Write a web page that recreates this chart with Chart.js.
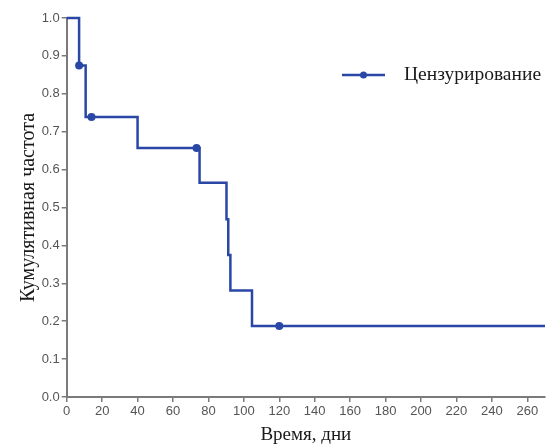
<!DOCTYPE html>
<html>
<head>
<meta charset="utf-8">
<script src="https://cdn.jsdelivr.net/npm/chart.js@4/dist/chart.umd.min.js"></script>
<style>
html,body{margin:0;padding:0;background:#fff;overflow:hidden;}
#wrap{width:546px;height:446px;position:relative;overflow:hidden;}
</style>
</head>
<body>
<div id="wrap"><canvas id="c" width="549" height="446"></canvas></div>
<script>
// Kaplan–Meier step curve (time in days, cumulative proportion)
const stepTimes  = [0, 7, 10.7, 40, 75, 90.2, 91.2, 92.4, 104.6, 270];
const stepValues = [1.0, 0.875, 0.739, 0.657, 0.565, 0.469, 0.375, 0.281, 0.1875, 0.1875];
// Censored observations
const censorTimes  = [7, 14, 73.3, 120];
const censorValues = [0.875, 0.739, 0.657, 0.1875];
const xTicks = [0,20,40,60,80,100,120,140,160,180,200,220,240,260];
const yTicks = [0.0,0.1,0.2,0.3,0.4,0.5,0.6,0.7,0.8,0.9,1.0];
const legendLabel = 'Цензурирование';
const xTitle = 'Время, дни';
const yTitle = 'Кумулятивная частота';

const BLUE = '#2a47a6';
const AXIS = '#7a7a7a';

const legendPlugin = {
  id: 'kmLegend',
  afterDraw(chart) {
    const ctx = chart.ctx;
    ctx.save();
    const y = 75;
    ctx.strokeStyle = BLUE;
    ctx.lineWidth = 2.5;
    ctx.beginPath();
    ctx.moveTo(342, y); ctx.lineTo(385, y);
    ctx.stroke();
    ctx.fillStyle = BLUE;
    ctx.beginPath();
    ctx.arc(363.5, y, 3.5, 0, Math.PI*2);
    ctx.fill();
    ctx.fillStyle = '#1a1a1a';
    ctx.font = '19.5px "Liberation Serif", "Times New Roman", serif';
    ctx.textBaseline = 'middle';
    ctx.textAlign = 'left';
    ctx.fillText(legendLabel, 404, y);
    ctx.restore();
  }
};

new Chart(document.getElementById('c'), {
  type: 'line',
  data: {
    datasets: [
      {
        label: legendLabel,
        data: stepTimes.map((t,i)=>({x:t,y:stepValues[i]})),
        borderColor: BLUE,
        borderWidth: 2.5,
        stepped: 'before',
        pointRadius: 0,
        fill: false
      },
      {
        label: 'censor',
        data: censorTimes.map((t,i)=>({x:t,y:censorValues[i]})),
        showLine: false,
        pointRadius: 4,
        pointBackgroundColor: BLUE,
        pointBorderColor: BLUE,
        pointBorderWidth: 0
      }
    ]
  },
  options: {
    responsive: false,
    animation: false,
    clip: false,
    layout: { padding: { left: 0, right: 0, top: 18, bottom: 0 } },
    plugins: { legend: { display: false }, tooltip: { enabled: false } },
    scales: {
      x: {
        type: 'linear',
        min: 0, max: 270,
        afterBuildTicks: s => { s.ticks = xTicks.map(v => ({value: v})); },
        afterFit: s => { s.height = 49; },
        border: { display: true, color: AXIS, width: 2 },
        grid: { drawOnChartArea: false, drawTicks: true, tickLength: 5, color: AXIS, lineWidth: 1.5 },
        ticks: { color: '#555', font: { family: '"Liberation Sans", Arial, sans-serif', size: 13 }, padding: 2, maxRotation: 0, autoSkip: false },
        title: { display: true, text: xTitle, color: '#1a1a1a', font: { family: '"Liberation Serif", "Times New Roman", serif', size: 19 }, padding: { top: 8, bottom: 0 } }
      },
      y: {
        type: 'linear',
        min: 0, max: 1,
        afterBuildTicks: s => { s.ticks = yTicks.map(v => ({value: v})); },
        afterFit: s => { s.width = 66.7; },
        border: { display: true, color: AXIS, width: 2 },
        grid: { drawOnChartArea: false, drawTicks: true, tickLength: 5, color: AXIS, lineWidth: 1.5 },
        ticks: { color: '#555', font: { family: '"Liberation Sans", Arial, sans-serif', size: 13 }, padding: 2, callback: v => v.toFixed(1) },
        title: { display: true, text: yTitle, color: '#1a1a1a', font: { family: '"Liberation Serif", "Times New Roman", serif', size: 20 }, padding: { top: 17, bottom: 0 } }
      }
    }
  },
  plugins: [legendPlugin]
});
</script>
</body>
</html>
